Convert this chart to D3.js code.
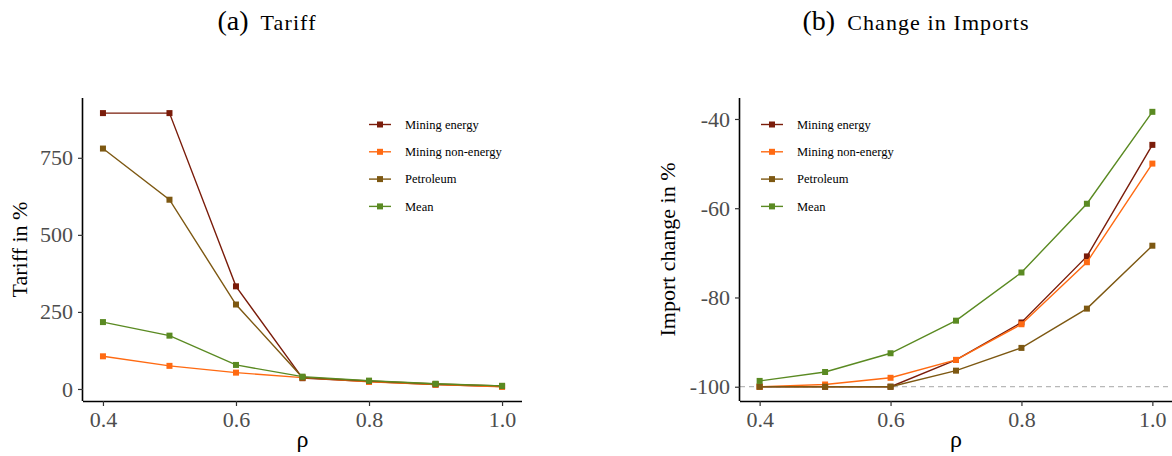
<!DOCTYPE html>
<html>
<head>
<meta charset="utf-8">
<script src="https://cdn.jsdelivr.net/npm/d3@7"></script>
<style>
  html, body { margin: 0; padding: 0; background: #fff; }
  svg { display: block; }
  text { font-family: "Liberation Serif", "Times New Roman", serif; }
</style>
</head>
<body>
<svg id="chart" width="1172" height="456"></svg>
<script>
// ---- data ----
const rho = [0.4, 0.5, 0.6, 0.7, 0.8, 0.9, 1.0];
const seriesNames = ["Mining energy", "Mining non-energy", "Petroleum", "Mean"];
const seriesColors = ["#7a1c0a", "#ff6a12", "#7d5812", "#5a8a22"];

const tariffMiningEnergy    = [895, 895, 333, 35, 24, 14, 8];
const tariffMiningNonEnergy = [106, 75, 53, 37, 23, 14, 7];
const tariffPetroleum       = [780, 614, 274, 37, 26, 16, 10];
const tariffMean            = [217, 173, 78, 40, 27, 17, 10];

const importMiningEnergy    = [-100, -100, -100, -94.0, -85.6, -70.8, -45.8];
const importMiningNonEnergy = [-100, -99.5, -98.0, -94.0, -86.0, -72.1, -50.0];
const importPetroleum       = [-100, -100, -100, -96.4, -91.3, -82.5, -68.4];
const importMean            = [-98.7, -96.7, -92.5, -85.2, -74.4, -59.0, -38.4];

const xTicks = [0.4, 0.6, 0.8, 1.0];
const tariffTicks = [0, 250, 500, 750];
const importTicks = [-100, -80, -60, -40];
const referenceLine = -100;

// ---- drawing ----
const svg = d3.select("#chart");
const plotTop = 98, plotBottom = 401;

function panel(opts) {
  const x = d3.scaleLinear().domain([0.37, 1.03]).range([opts.left, opts.right]);
  const y = d3.scaleLinear().domain(opts.yDomain).range([plotBottom, plotTop]);
  const g = svg.append("g");

  if (opts.hline !== undefined) {
    g.append("line")
      .attr("x1", opts.left).attr("x2", opts.right)
      .attr("y1", y(opts.hline)).attr("y2", y(opts.hline))
      .attr("stroke", "#b8b8b8").attr("stroke-width", 1.2)
      .attr("stroke-dasharray", "5,4");
  }

  // axes
  const xa = g.append("g").attr("transform", `translate(0,${plotBottom})`)
    .call(d3.axisBottom(x).tickValues(xTicks).tickFormat(d3.format(".1f")).tickSize(5).tickPadding(5));
  const ya = g.append("g").attr("transform", `translate(${opts.left},0)`)
    .call(d3.axisLeft(y).tickValues(opts.yTicks).tickFormat(d => d).tickSize(5).tickPadding(5));
  [xa, ya].forEach(a => {
    a.attr("font-family", "'Liberation Serif', serif");
    a.select(".domain").attr("stroke", "#000").attr("stroke-width", 1.6);
    a.selectAll(".tick line").attr("stroke", "#333").attr("stroke-width", 1.2);
    a.selectAll(".tick text").attr("fill", "#4d4d4d").style("font-size", "22px")
      .style("font-family", "'Liberation Serif', serif");
  });
  xa.select(".domain").attr("d", `M${opts.left},0.5H${opts.right}`);
  ya.select(".domain").attr("d", `M-0.5,${plotTop}V${plotBottom}`);

  // series
  const line = d3.line().x((d, i) => x(rho[i])).y(d => y(d));
  opts.series.forEach((vals, si) => {
    const c = seriesColors[si];
    g.append("path").datum(vals).attr("d", line)
      .attr("fill", "none").attr("stroke", c).attr("stroke-width", 1.4);
    g.selectAll(null).data(vals).enter().append("rect")
      .attr("x", (d, i) => x(rho[i]) - 3).attr("y", d => y(d) - 3)
      .attr("width", 6).attr("height", 6).attr("fill", c);
  });

  // axis titles
  g.append("text").attr("x", (opts.left + opts.right) / 2).attr("y", 447)
    .attr("text-anchor", "middle").style("font-size", "24px").attr("fill", "#000").text("ρ");
  g.append("text")
    .attr("transform", `translate(${opts.yTitleX},${(plotTop + plotBottom) / 2}) rotate(-90)`)
    .attr("text-anchor", "middle").style("font-size", "22px").attr("fill", "#000")
    .text(opts.yTitle);

  // legend
  const lg = g.append("g");
  seriesNames.forEach((name, si) => {
    const ry = 124.5 + si * 27.3;
    lg.append("line").attr("x1", opts.legendX - 11).attr("x2", opts.legendX + 11)
      .attr("y1", ry).attr("y2", ry).attr("stroke", seriesColors[si]).attr("stroke-width", 1.4);
    lg.append("rect").attr("x", opts.legendX - 3).attr("y", ry - 3)
      .attr("width", 6).attr("height", 6).attr("fill", seriesColors[si]);
    lg.append("text").attr("x", opts.legendX + 25).attr("y", ry).attr("dy", "0.35em")
      .style("font-size", "12.5px").attr("fill", "#000").text(name);
  });

  // panel title
  const t = svg.append("text").attr("x", opts.titleX).attr("y", 30)
    .attr("text-anchor", "middle").attr("fill", "#000");
  t.append("tspan").style("font-size", "28px").text(opts.titleTag);
  t.append("tspan").style("font-size", "22px").style("letter-spacing", "1.1px").text("\u2002" + opts.title);
}

panel({
  left: 83, right: 522, yDomain: [-39, 944], yTicks: tariffTicks,
  series: [tariffMiningEnergy, tariffMiningNonEnergy, tariffPetroleum, tariffMean],
  yTitle: "Tariff in %", yTitleX: 27, legendX: 380,
  titleX: 267, titleTag: "(a)", title: "Tariff"
});
panel({
  left: 740, right: 1172, yDomain: [-103.2, -35.3], yTicks: importTicks,
  series: [importMiningEnergy, importMiningNonEnergy, importPetroleum, importMean],
  yTitle: "Import change in %", yTitleX: 675, legendX: 772, hline: referenceLine,
  titleX: 916, titleTag: "(b)", title: "Change in Imports"
});
</script>
</body>
</html>
